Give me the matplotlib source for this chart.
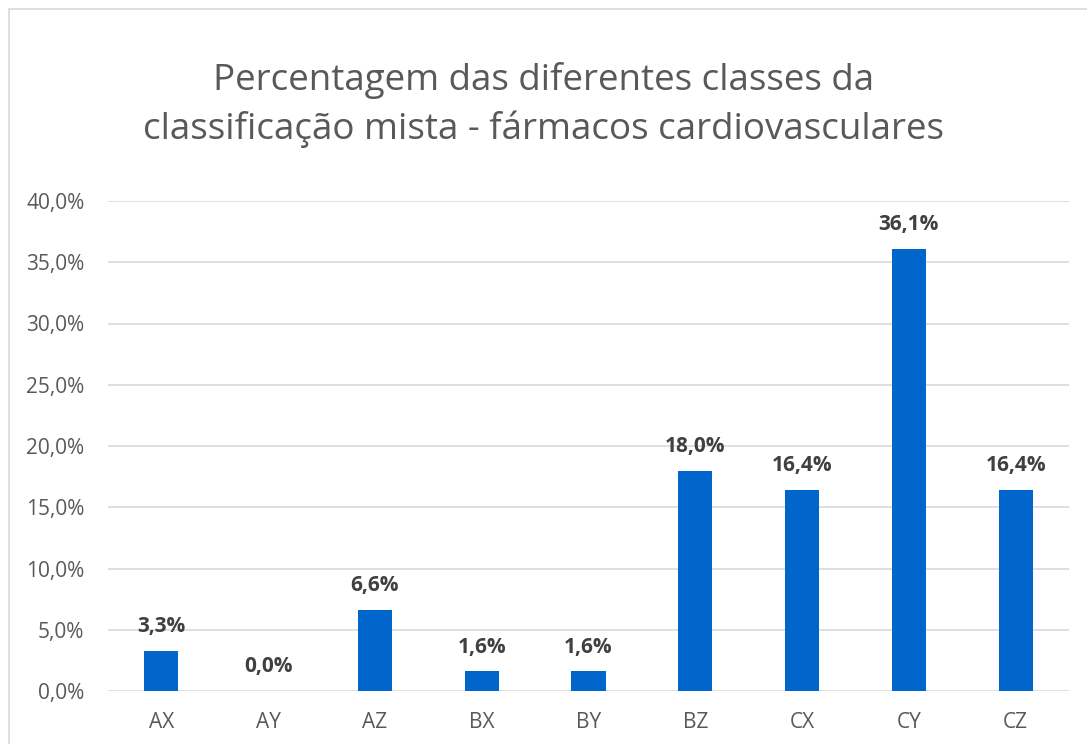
#!/usr/bin/env python3

import matplotlib
matplotlib.use("Agg")
import matplotlib.pyplot as plt
from matplotlib.patches import Rectangle

categories = ["AX", "AY", "AZ", "BX", "BY", "BZ", "CX", "CY", "CZ"]
percentages = [3.3, 0.0, 6.6, 1.6, 1.6, 18.0, 16.4, 36.1, 16.4]
y_ticks = [0, 5, 10, 15, 20, 25, 30, 35, 40]

title = "Percentagem das diferentes classes da\nclassificação mista - fármacos cardiovasculares"


def fmt(v):
    return f"{v:.1f}%".replace(".", ",")


def plot_chart():
    plt.rcParams["font.family"] = ["Open Sans", "DejaVu Sans"]
    fig = plt.figure(figsize=(10.87, 7.44), dpi=100)
    ax = fig.add_axes([108 / 1087, 1 - 691 / 744, (1069 - 108) / 1087, (691 - 201) / 744])

    x = range(len(categories))
    ax.bar(x, percentages, width=0.32, color="#0066CC", zorder=3)

    # value labels above the bars
    for i, v in enumerate(percentages):
        ax.annotate(fmt(v), (i, v), xytext=(0, 10), textcoords="offset points",
                    ha="center", va="bottom", fontsize=15, fontweight="bold",
                    color="#404040")

    ax.set_xlim(-0.5, len(categories) - 0.5)
    ax.set_ylim(0, 40)
    ax.set_yticks(y_ticks)
    ax.set_yticklabels([fmt(t) for t in y_ticks])
    ax.set_xticks(list(x))
    ax.set_xticklabels(categories)
    ax.tick_params(axis="both", length=0, labelsize=15, labelcolor="#595959")
    ax.tick_params(axis="y", pad=17)
    ax.tick_params(axis="x", pad=15)
    ax.grid(axis="y", color="#D9D9D9", linewidth=1.2, zorder=0)
    for s in ax.spines.values():
        s.set_visible(False)

    fig.text(0.5, 1 - 105 / 744, title, ha="center", va="center",
             fontsize=26.5, color="#595959", linespacing=1.38)

    # light chart border
    fig.patches.append(Rectangle((9 / 1087, -1), 2, 2 - 9 / 744, transform=fig.transFigure,
                                 fill=False, edgecolor="#D9D9D9", linewidth=1.2))

    fig.savefig("out.png", dpi=100)


if __name__ == "__main__":
    plot_chart()
